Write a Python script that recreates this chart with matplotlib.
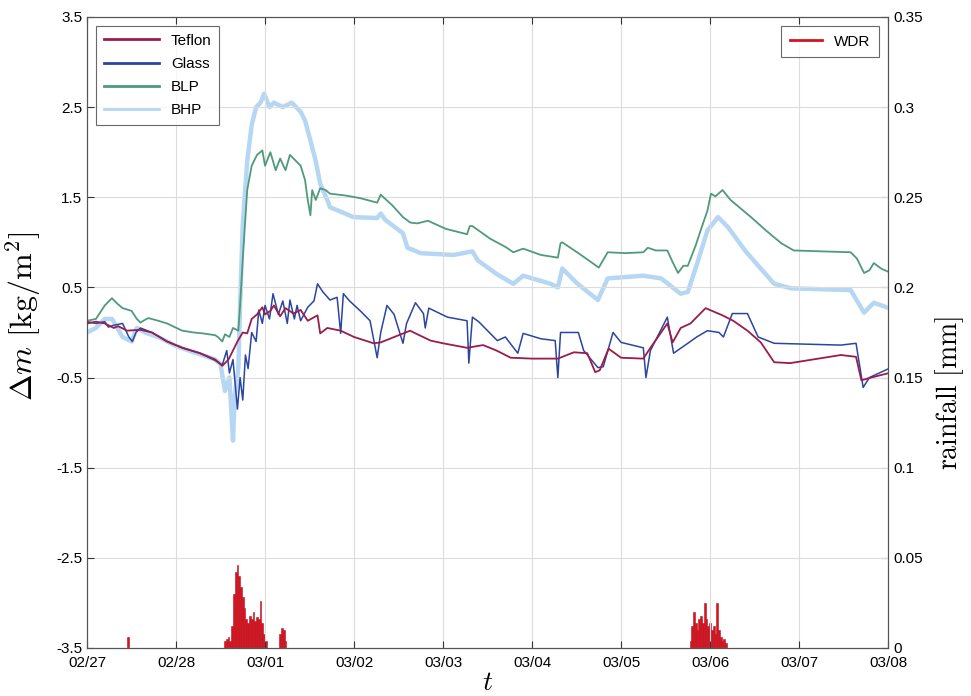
import datetime as dt
import numpy as np
import matplotlib
matplotlib.use("Agg")
import matplotlib.pyplot as plt
import matplotlib.dates as mdates
from matplotlib.lines import Line2D

plt.rcParams['font.family'] = ['Liberation Sans', 'DejaVu Sans']
plt.rcParams['mathtext.fontset'] = 'cm'
plt.rcParams['axes.unicode_minus'] = False

# time in days after 02/27 00:00, mass change in kg/m2
teflon_t = [0.0, 0.1, 0.2, 0.24, 0.3, 0.35, 0.45, 0.6, 0.73, 0.9, 1.07, 1.27, 1.44, 1.52, 1.59, 1.64,
            1.69, 1.75, 1.8, 1.85, 1.91, 1.97, 2.0, 2.06, 2.1, 2.17, 2.23, 2.32, 2.4, 2.48, 2.59, 2.62,
            2.7, 2.85, 3.0, 3.22, 3.3, 3.63, 3.67, 3.86, 4.0, 4.27, 4.45, 4.6, 4.76, 5.0, 5.21, 5.29,
            5.47, 5.62, 5.71, 5.76, 5.86, 6.0, 6.25, 6.33, 6.52, 6.58, 6.67, 6.78, 6.95, 7.14, 7.26,
            7.42, 7.57, 7.72, 7.9, 8.47, 8.64, 8.70, 8.81, 9.01]
teflon_v = [0.10, 0.12, 0.10, 0.08, 0.05, 0.07, 0.02, 0.03, 0.0, -0.1, -0.17, -0.23, -0.30, -0.37, -0.3, -0.2,
            -0.1, 0.0, -0.01, 0.15, 0.2, 0.28, 0.20, 0.24, 0.3, 0.18, 0.27, 0.21, 0.25, 0.13, 0.19, -0.01,
            0.05, 0.02, -0.05, -0.12, -0.11, 0.02, 0.0, -0.09, -0.12, -0.17, -0.14, -0.2, -0.28, -0.29, -0.29, -0.29,
            -0.22, -0.23, -0.44, -0.42, -0.18, -0.28, -0.29, -0.17, 0.1, -0.11, 0.05, 0.1, 0.27, 0.19, 0.13,
            0.02, -0.11, -0.33, -0.34, -0.25, -0.27, -0.53, -0.5, -0.45]

glass_t = [0.0, 0.1, 0.2, 0.24, 0.3, 0.4, 0.47, 0.51, 0.55, 0.6, 0.73, 0.9, 1.07, 1.27, 1.44, 1.52,
           1.57, 1.60, 1.64, 1.69, 1.72, 1.75, 1.78, 1.81, 1.85, 1.9, 1.93, 1.97, 2.0, 2.05, 2.09, 2.15,
           2.2, 2.25, 2.28, 2.33, 2.36, 2.40, 2.48, 2.55, 2.59, 2.65, 2.73, 2.81, 2.85, 2.88, 2.95, 3.07,
           3.18, 3.26, 3.30, 3.37, 3.45, 3.55, 3.59, 3.69, 3.78, 3.80, 3.84, 4.05, 4.27, 4.29, 4.33, 4.40,
           4.61, 4.70, 4.84, 4.90, 5.10, 5.26, 5.29, 5.32, 5.52, 5.58, 5.74, 5.80, 5.91, 6.0, 6.25, 6.28,
           6.33, 6.52, 6.59, 6.75, 6.85, 6.97, 7.10, 7.15, 7.25, 7.42, 7.54, 7.72, 8.47, 8.64, 8.72, 8.79, 9.01]
glass_v = [0.12, 0.10, 0.12, 0.06, 0.08, 0.10, -0.05, -0.1, 0.0, 0.05, 0.0, -0.1, -0.17, -0.23, -0.31, -0.36,
           -0.2, -0.45, -0.3, -0.85, -0.5, -0.75, -0.25, -0.4, 0.0, -0.1, 0.25, 0.1, 0.3, 0.15, 0.43, 0.2,
           0.35, 0.1, 0.36, 0.15, 0.3, 0.13, 0.28, 0.35, 0.54, 0.45, 0.36, 0.39, -0.01, 0.43, 0.35, 0.24,
           0.13, -0.28, 0.0, 0.3, 0.2, -0.12, 0.1, 0.33, 0.21, 0.05, 0.27, 0.17, 0.13, -0.34, 0.17, 0.12,
           -0.09, -0.05, -0.23, -0.01, -0.07, -0.09, -0.5, 0.0, 0.0, -0.2, -0.39, -0.38, 0.0, -0.11, -0.17, -0.5,
           -0.2, 0.17, -0.23, -0.12, -0.05, 0.02, 0.0, -0.05, 0.21, 0.21, -0.05, -0.12, -0.14, -0.12, -0.61, -0.5, -0.4]

blp_t = [0.0, 0.1, 0.2, 0.28, 0.34, 0.40, 0.50, 0.56, 0.60, 0.65, 0.69, 0.8, 0.9, 1.07, 1.2, 1.3,
         1.44, 1.47, 1.52, 1.55, 1.60, 1.64, 1.70, 1.72, 1.755, 1.80, 1.85, 1.91, 1.97, 2.0, 2.06, 2.12,
         2.17, 2.23, 2.28, 2.34, 2.40, 2.45, 2.48, 2.51, 2.53, 2.57, 2.62, 2.68, 2.73, 2.90, 3.07, 3.26,
         3.30, 3.32, 3.43, 3.55, 3.63, 3.71, 3.83, 4.03, 4.23, 4.27, 4.30, 4.33, 4.53, 4.70, 4.79, 4.90,
         5.10, 5.29, 5.32, 5.34, 5.55, 5.75, 5.85, 6.05, 6.25, 6.30, 6.39, 6.52, 6.58, 6.64, 6.70, 6.75,
         6.84, 6.90, 6.97, 7.01, 7.06, 7.14, 7.23, 7.46, 7.63, 7.80, 7.94, 8.25, 8.58, 8.65, 8.73, 8.79,
         8.84, 8.92, 9.01]
blp_v = [0.13, 0.15, 0.30, 0.38, 0.32, 0.27, 0.24, 0.15, 0.11, 0.14, 0.16, 0.13, 0.10, 0.02, 0.0, -0.01,
         -0.03, -0.05, -0.10, -0.02, -0.05, 0.05, 0.02, 0.30, 0.90, 1.58, 1.85, 1.97, 2.02, 1.85, 2.0, 1.8,
         1.93, 1.8, 1.97, 1.91, 1.85, 1.69, 1.47, 1.3, 1.58, 1.47, 1.6, 1.58, 1.54, 1.52, 1.49, 1.44,
         1.53, 1.51, 1.41, 1.28, 1.22, 1.21, 1.24, 1.15, 1.10, 1.09, 1.18, 1.18, 1.04, 0.95, 0.89, 0.93,
         0.86, 0.83, 0.99, 1.0, 0.86, 0.72, 0.89, 0.88, 0.89, 0.94, 0.91, 0.91, 0.78, 0.66, 0.74, 0.74,
         0.97, 1.15, 1.35, 1.54, 1.51, 1.58, 1.47, 1.28, 1.13, 0.99, 0.91, 0.90, 0.89, 0.82, 0.66, 0.69,
         0.77, 0.71, 0.67]

bhp_t = [0.0, 0.1, 0.2, 0.28, 0.34, 0.40, 0.5, 0.56, 0.65, 0.8, 1.0, 1.2, 1.44, 1.50, 1.55, 1.60,
         1.64, 1.66, 1.70, 1.72, 1.75, 1.80, 1.85, 1.90, 1.95, 1.99, 2.05, 2.1, 2.2, 2.3, 2.4, 2.45,
         2.51, 2.57, 2.62, 2.70, 2.73, 2.9, 2.99, 3.26, 3.30, 3.35, 3.55, 3.60, 3.75, 4.12, 4.33, 4.39,
         4.6, 4.79, 4.90, 5.21, 5.29, 5.34, 5.5, 5.74, 5.85, 6.25, 6.45, 6.67, 6.75, 6.85, 6.97, 7.09,
         7.2, 7.4, 7.72, 7.91, 8.58, 8.73, 8.84, 9.01]
bhp_v = [0.0, 0.05, 0.15, 0.15, 0.05, -0.05, -0.1, 0.05, 0.0, -0.05, -0.15, -0.22, -0.3, -0.35, -0.65, -0.5,
         -1.2, -0.7, -0.4, 0.3, 1.2, 1.9, 2.3, 2.5, 2.55, 2.65, 2.5, 2.55, 2.5, 2.55, 2.45, 2.35,
         2.13, 1.9, 1.65, 1.47, 1.39, 1.32, 1.28, 1.27, 1.32, 1.25, 1.1, 0.94, 0.88, 0.86, 0.90, 0.8,
         0.65, 0.54, 0.63, 0.54, 0.5, 0.71, 0.55, 0.36, 0.6, 0.63, 0.6, 0.43, 0.45, 0.75, 1.13, 1.28,
         1.17, 0.9, 0.54, 0.49, 0.47, 0.22, 0.33, 0.27]

# wind driven rain, mm per 30 min
wdr_t = [0.46, 1.55, 1.57, 1.59, 1.61, 1.63, 1.65, 1.67, 1.69, 1.71, 1.73, 1.75, 1.77, 1.79, 1.81, 1.83,
         1.85, 1.87, 1.89, 1.91, 1.93, 1.95, 1.97, 1.99, 2.01, 2.17, 2.19, 2.21, 2.23,
         6.78, 6.80, 6.82, 6.84, 6.86, 6.88, 6.90, 6.92, 6.94, 6.96, 6.98, 7.00, 7.02, 7.04, 7.06, 7.08,
         7.10, 7.12, 7.14, 7.16, 7.18]
wdr_v = [0.006, 0.004, 0.005, 0.006, 0.004, 0.012, 0.030, 0.042, 0.046, 0.040, 0.034, 0.028, 0.022, 0.016, 0.014, 0.018,
         0.016, 0.020, 0.015, 0.017, 0.016, 0.026, 0.014, 0.008, 0.004, 0.008, 0.011, 0.010, 0.004,
         0.004, 0.012, 0.020, 0.014, 0.010, 0.016, 0.018, 0.014, 0.025, 0.016, 0.012, 0.014, 0.010, 0.012, 0.008, 0.025,
         0.010, 0.006, 0.004, 0.005, 0.003]

start = dt.datetime(2013, 2, 27)


def to_dates(days):
    return [start + dt.timedelta(days=d) for d in days]


fig = plt.figure(figsize=(9.71, 6.96), dpi=100)
ax1 = fig.add_axes([0.0896, 0.069, 0.825, 0.9066])
ax2 = ax1.twinx()

# rain bars on the right axis, drawn underneath the lines
ax2.bar(to_dates(wdr_t), wdr_v, width=0.02, color='#d2141f', edgecolor='#c01020',
        linewidth=0.4, label='WDR')

l1, = ax1.plot(to_dates(teflon_t), teflon_v, color='#9a1c4c', lw=1.3, label='Teflon', zorder=4)
l2, = ax1.plot(to_dates(glass_t), glass_v, color='#2b45a0', lw=1.1, label='Glass', zorder=3)
l4, = ax1.plot(to_dates(bhp_t), bhp_v, color='#b5d7f3', lw=3.2, label='BHP', zorder=1)
l3, = ax1.plot(to_dates(blp_t), blp_v, color='#4f9a7c', lw=1.3, label='BLP', zorder=2)

ax1.set_xlim(start, start + dt.timedelta(days=9))
ax1.set_ylim(-3.5, 3.5)
ax2.set_ylim(0, 0.35)
ax1.set_yticks(np.arange(-3.5, 3.6, 1.0))
ax1.set_yticklabels(['-3.5', '-2.5', '-1.5', '-0.5', '0.5', '1.5', '2.5', '3.5'])
ax2.set_yticks(np.arange(0, 0.36, 0.05))
ax2.set_yticklabels(['0', '0.05', '0.1', '0.15', '0.2', '0.25', '0.3', '0.35'])
ax1.xaxis.set_major_locator(mdates.DayLocator())
ax1.xaxis.set_major_formatter(mdates.DateFormatter('%m/%d'))

ax1.grid(True, color='#dcdcdc', lw=0.8)
ax1.tick_params(direction='in', top=True, labelsize=11, length=5, color='#333333')
ax1.tick_params(axis='x', pad=6)
ax2.tick_params(direction='in', labelsize=11, length=5, color='#333333')
for ax in (ax1, ax2):
    for s in ax.spines.values():
        s.set_color('#555555')

ax1.set_ylabel(r'$\Delta m\ [\mathrm{kg/m^2}]$', fontsize=23)
ax1.yaxis.set_label_coords(-0.055, 0.526)
ax2.set_ylabel(r'$\mathrm{rainfall\ [mm]}$', fontsize=20)
ax2.yaxis.set_label_coords(1.056, 0.404)
ax1.set_xlabel(r'$t$', fontsize=20, labelpad=0)

# put the lines axes in front, with a transparent background
ax1.set_zorder(ax2.get_zorder() + 1)
ax1.patch.set_visible(False)
ax2.patch.set_visible(True)
ax2.patch.set_facecolor('white')

leg1 = ax1.legend(handles=[l1, l2, l3, l4], loc='upper left', fontsize=11, handlelength=3.6,
                  fancybox=False, edgecolor='#444444', borderaxespad=0.6, labelspacing=0.6,
                  borderpad=0.5)
leg1.get_frame().set_linewidth(0.8)
for h in leg1.get_lines():
    h.set_linewidth(2.0)

wdr_handle = Line2D([], [], color='#d2141f', lw=2.0)
leg2 = ax1.legend(handles=[wdr_handle], labels=['WDR'], loc='upper right', fontsize=11,
                  handlelength=2.1, fancybox=False, edgecolor='#444444', borderaxespad=0.6,
                  borderpad=0.55)
leg2.get_frame().set_linewidth(0.8)
ax1.add_artist(leg1)

fig.savefig('out.png', dpi=100)
